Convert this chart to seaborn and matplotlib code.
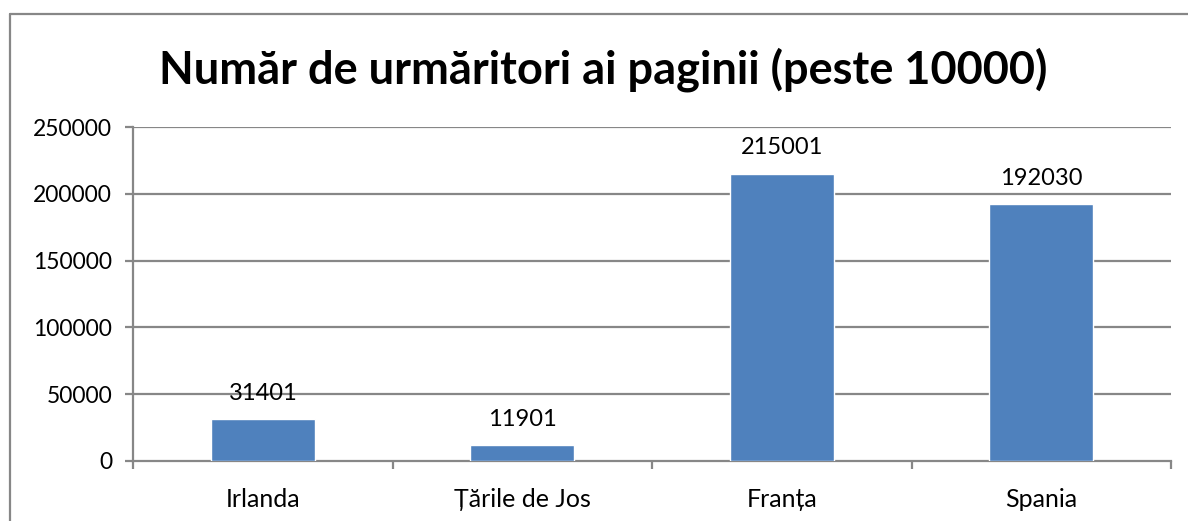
import matplotlib
matplotlib.use("Agg")
from matplotlib import pyplot as plt
from matplotlib.lines import Line2D
import seaborn as sns
import pandas as pd

countries = ['Irlanda', 'Țările de Jos', 'Franța', 'Spania']
followers = [31401, 11901, 215001, 192030]
y_ticks = [0, 50000, 100000, 150000, 200000, 250000]
title = 'Număr de urmăritori ai paginii (peste 10000)'

bar_color = '#4F81BD'
grid_color = '#878787'

sns.set_style('white')
plt.rcParams['font.family'] = ['Lato', 'DejaVu Sans']
plt.rcParams['text.color'] = 'black'
plt.rcParams['xtick.color'] = 'black'
plt.rcParams['ytick.color'] = 'black'

df = pd.DataFrame({'country': countries, 'followers': followers})

fig = plt.figure(figsize=(11.88, 5.21), dpi=100)
ax = fig.add_axes([0.112, 0.1152, 0.8737, 0.641])

sns.barplot(data=df, x='country', y='followers', order=countries,
            color=bar_color, width=0.4, saturation=1, ax=ax, zorder=3)

ax.set_ylim(0, 250000)
ax.set_xlim(-0.5, len(countries) - 0.5)
ax.set_yticks(y_ticks)
ax.set_yticklabels([str(v) for v in y_ticks])
ax.set_xlabel('')
ax.set_ylabel('')

# gridlines like excel
for v in y_ticks[1:]:
    ax.axhline(v, color=grid_color, lw=1.6, zorder=1)

for side in ['top', 'right']:
    ax.spines[side].set_visible(False)
for side in ['left', 'bottom']:
    ax.spines[side].set_color(grid_color)
    ax.spines[side].set_linewidth(1.6)

ax.tick_params(axis='y', which='both', left=True, length=6, width=1.6,
               color=grid_color, labelcolor='black', labelsize=16.5, pad=9)
# x ticks at category boundaries
ax.set_xticks([i - 0.5 for i in range(len(countries) + 1)], minor=True)
ax.tick_params(axis='x', which='minor', bottom=True, length=6, width=1.6,
               color=grid_color)
ax.tick_params(axis='x', which='major', bottom=False, labelsize=18,
               labelcolor='black', pad=16)

# data labels
for i, v in enumerate(followers):
    ax.annotate(str(v), (i, v), xytext=(0, 11), textcoords='offset points',
                ha='center', va='bottom', fontsize=17, color='black')

fig.text(0.508, 0.866, title, ha='center', va='center',
         fontsize=32.5, fontweight='bold', color='black')

# chart border (partially cut off at the right and bottom)
fig.add_artist(Line2D([10 / 1188, 10 / 1188], [0, 1 - 14 / 521],
                      color=grid_color, lw=1.6, transform=fig.transFigure))
fig.add_artist(Line2D([10 / 1188, 1], [1 - 14 / 521, 1 - 14 / 521],
                      color=grid_color, lw=1.6, transform=fig.transFigure))

fig.savefig('out.png', dpi=100, facecolor='white')
